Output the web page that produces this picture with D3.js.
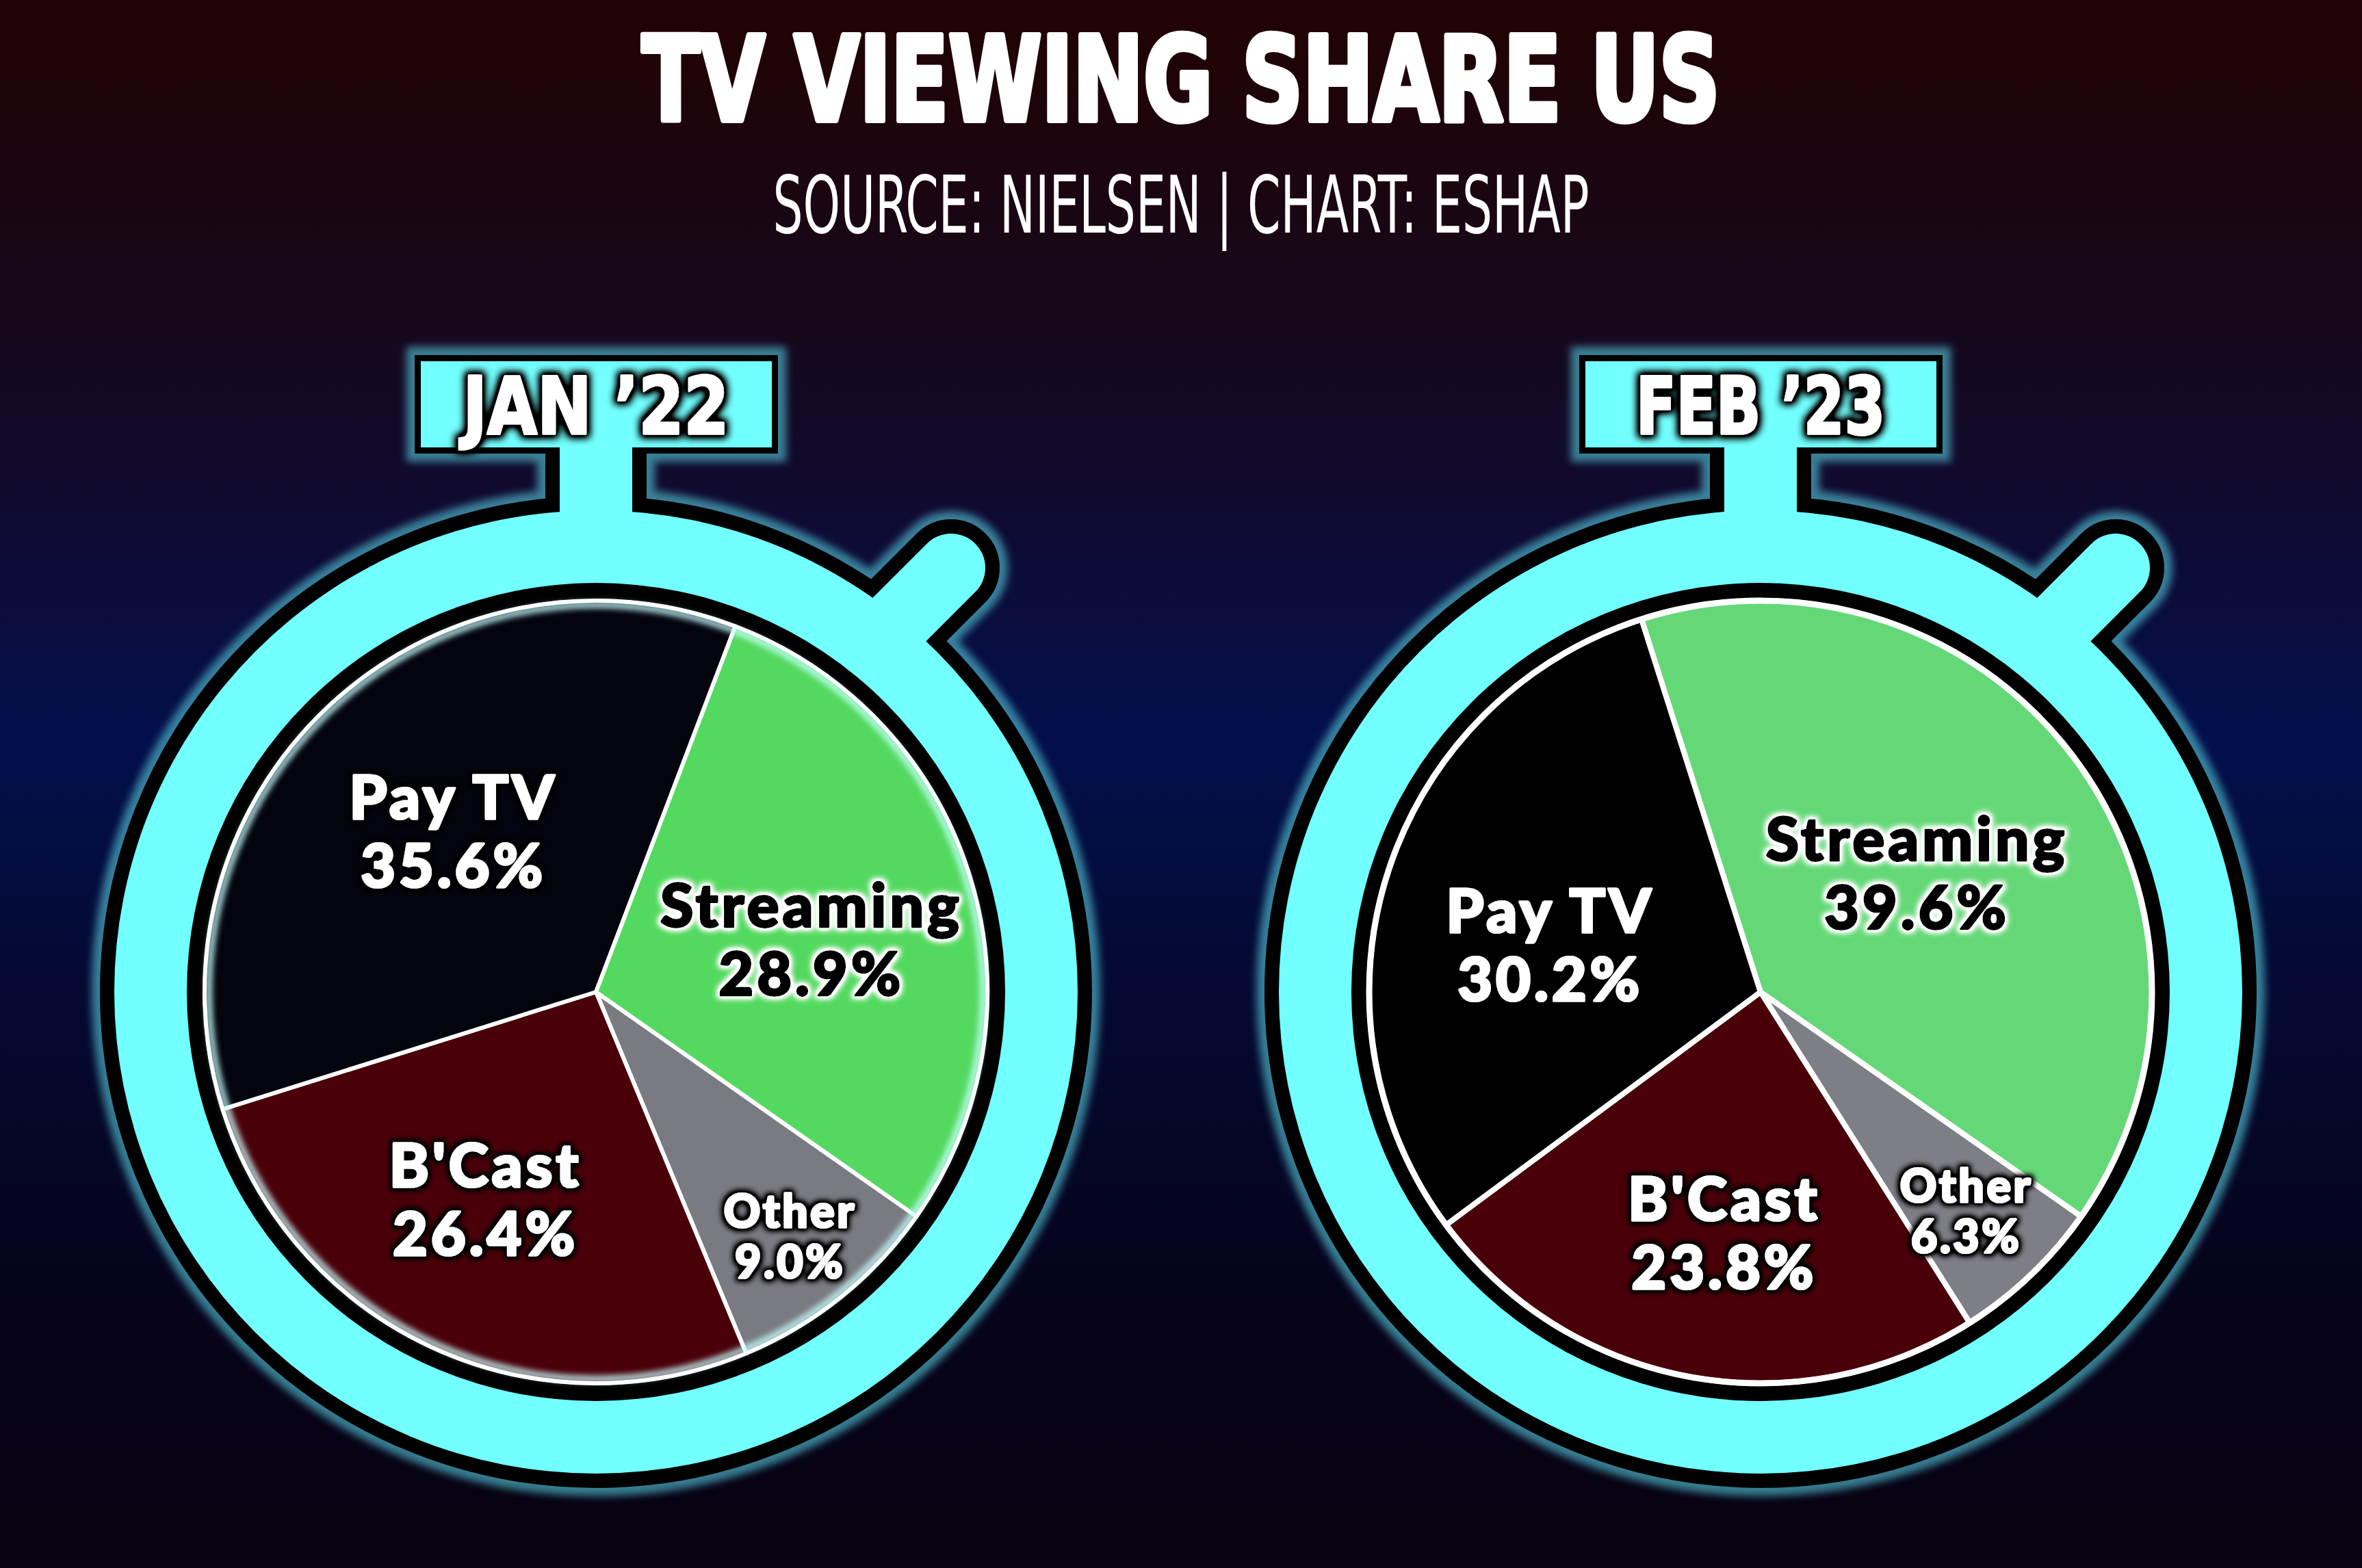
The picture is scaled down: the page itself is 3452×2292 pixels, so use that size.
<!DOCTYPE html>
<html><head><meta charset="utf-8">
<script src="https://cdn.jsdelivr.net/npm/d3@7"></script>
<style>html,body{margin:0;padding:0;background:#0a0520;overflow:hidden} svg{display:block}</style>
</head><body><svg id="c" width="3452" height="2292"></svg>
<script>
// ---------------- DATA ----------------
const categories = ["Other", "B'Cast", "Pay TV", "Streaming"];
const periods = ["JAN ’22", "FEB ’23"];
const jan22Values = [9.0, 26.4, 35.6, 28.9];
const feb23Values = [6.3, 23.8, 30.2, 39.6];
const titleText = "TV VIEWING SHARE US";
const subtitleText = "SOURCE: NIELSEN | CHART: ESHAP";

// ---------------- STYLE ----------------
const W = 3452, H = 2292;
const jan22Colors = ["#7a7a82", "#4a0009", "#03040e", "#53d95f"];
const feb23Colors = ["#7e7e87", "#4a0009", "#000000", "#64d877"];
const labelFill = ["#fff", "#fff", "#fff", "#000"];
const labelHalo = ["haloBlack", "haloBlack", "haloBlack", "haloWhite"];
const labelSize = [66, 88, 88, 88];
const labelGap = [74, 100, 100, 100];
const jan22LabelR = [456, 344, 314, 324];
const jan22Nudge = [0.3, 3, 1.7, 3.4];
const feb23LabelR = [439, 356, 315, 287];
const feb23Nudge = [0.4, -2, -5.2, -0.9];
const periodLabelWidth = [389, 364];
const CYAN = "#72ffff";

const charts = [
  {period: periods[0], values: jan22Values, colors: jan22Colors, labelR: jan22LabelR, nudge: jan22Nudge, tl: periodLabelWidth[0], sep: 6, rim: 5, innerGlow: true},
  {period: periods[1], values: feb23Values, colors: feb23Colors, labelR: feb23LabelR, nudge: feb23Nudge, tl: periodLabelWidth[1], sep: 8, rim: 9, innerGlow: false}
];

const svg = d3.select("#c");
const defs = svg.append("defs");

// background gradient
const bg = defs.append("linearGradient").attr("id", "bg").attr("x1", 0).attr("y1", 0).attr("x2", 0).attr("y2", 1);
[[0, "#220203"], [0.18, "#170818"], [0.32, "#100a30"], [0.47, "#03104c"], [0.62, "#040a34"], [0.8, "#06041e"], [1, "#080110"]]
  .forEach(([o, c]) => bg.append("stop").attr("offset", o).attr("stop-color", c));
svg.append("rect").attr("width", W).attr("height", H).attr("fill", "url(#bg)");

// filters
defs.append("filter").attr("id", "glow").attr("x", "-20%").attr("y", "-20%").attr("width", "140%").attr("height", "140%")
  .append("feGaussianBlur").attr("stdDeviation", 6);
defs.append("filter").attr("id", "soft").attr("x", "-20%").attr("y", "-20%").attr("width", "140%").attr("height", "140%")
  .append("feGaussianBlur").attr("stdDeviation", 4);

function halo(id, color, dil, blur, slope) {
  const f = defs.append("filter").attr("id", id).attr("x", "-30%").attr("y", "-30%").attr("width", "160%").attr("height", "160%");
  f.append("feMorphology").attr("in", "SourceAlpha").attr("operator", "dilate").attr("radius", dil).attr("result", "d");
  f.append("feGaussianBlur").attr("in", "d").attr("stdDeviation", blur).attr("result", "b");
  f.append("feFlood").attr("flood-color", color).attr("result", "c");
  f.append("feComposite").attr("in", "c").attr("in2", "b").attr("operator", "in").attr("result", "h");
  const ct = f.append("feComponentTransfer").attr("in", "h").attr("result", "h2");
  ct.append("feFuncA").attr("type", "linear").attr("slope", slope);
  const m = f.append("feMerge");
  m.append("feMergeNode").attr("in", "h2");
  m.append("feMergeNode").attr("in", "SourceGraphic");
}
halo("haloBlack", "#000", 3, 4, 1.6);
halo("haloWhite", "#fff", 3, 4, 1.6);
halo("boxShadow", "#000", 4, 6, 1.6);

const condensed = "'Liberation Sans Narrow','DejaVu Sans Condensed','Roboto Condensed',sans-serif";

// titles
svg.append("text").attr("x", W / 2).attr("y", 176).attr("text-anchor", "middle")
  .attr("font-family", condensed)
  .attr("font-weight", 700).attr("font-size", 171).attr("fill", "#fff")
  .attr("stroke", "#fff").attr("stroke-width", 8).attr("stroke-linejoin", "round")
  .attr("textLength", 1575).attr("lengthAdjust", "spacingAndGlyphs").text(titleText);
svg.append("text").attr("x", W / 2).attr("y", 340).attr("text-anchor", "middle")
  .attr("font-family", condensed)
  .attr("font-weight", 400).attr("font-size", 116).attr("fill", "#fff")
  .attr("textLength", 1193).attr("lengthAdjust", "spacingAndGlyphs").text(subtitleText);

// layout scale for the two stopwatches
const xPos = d3.scalePoint().domain(periods).range([871, 2573]);
const cy = 1450;
const ringR = 704, innerR = 598, pieR = 572;
const outlineW = 21, boxStroke = 18;

function shapes(g, cx, kind) {
  const sw = kind === "glow" ? outlineW * 2 + 24 : (kind === "outline" ? outlineW * 2 : 0);
  const bsw = kind === "glow" ? boxStroke + 24 : (kind === "outline" ? boxStroke : 0);
  const col = kind === "glow" ? "#4cb2c6" : (kind === "outline" ? "#000" : CYAN);
  g.append("circle").attr("cx", cx).attr("cy", cy).attr("r", ringR)
    .attr("fill", col).attr("stroke", col).attr("stroke-width", sw);
  g.append("rect").attr("x", cx - 53).attr("y", 600).attr("width", 106).attr("height", cy - 640 - 600)
    .attr("fill", col).attr("stroke", col).attr("stroke-width", sw);
  g.append("g").attr("transform", `translate(${cx + 519},${cy - 620}) rotate(45)`)
    .append("rect").attr("x", -50).attr("y", -50).attr("width", 100).attr("height", 330).attr("rx", 50)
    .attr("fill", col).attr("stroke", col).attr("stroke-width", sw).attr("stroke-linejoin", "round");
  g.append("rect").attr("x", cx - 256).attr("y", 528).attr("width", 513).attr("height", 126)
    .attr("fill", col).attr("stroke", col).attr("stroke-width", bsw);
}

charts.forEach(ch => {
  const cx = xPos(ch.period);
  const root = svg.append("g");
  shapes(root.append("g").attr("filter", "url(#glow)").attr("opacity", 0.7), cx, "glow");
  shapes(root.append("g"), cx, "outline");
  shapes(root.append("g"), cx, "fill");

  // period label
  root.append("text").attr("x", cx).attr("y", 634).attr("text-anchor", "middle")
    .attr("font-family", condensed)
    .attr("font-weight", 700).attr("font-size", 116)
    .attr("stroke", "#fff").attr("stroke-width", 3).attr("stroke-linejoin", "round")
    .attr("textLength", ch.tl).attr("lengthAdjust", "spacingAndGlyphs")
    .attr("fill", "#fff").attr("filter", "url(#boxShadow)").text(ch.period);

  // dial
  root.append("circle").attr("cx", cx).attr("cy", cy).attr("r", innerR).attr("fill", "#000");

  const pie = d3.pie().sort(null).value(d => d.v)
    .startAngle(125 * Math.PI / 180).endAngle(125 * Math.PI / 180 + 2 * Math.PI);
  const data = categories.map((c, i) => ({c, v: ch.values[i], i}));
  const arcs = pie(data);
  const arc = d3.arc().innerRadius(0).outerRadius(pieR);
  const pg = root.append("g").attr("transform", `translate(${cx},${cy})`);
  pg.selectAll("path.slice").data(arcs).join("path").attr("class", "slice")
    .attr("d", arc).attr("fill", d => ch.colors[d.data.i])
    .attr("stroke", "#fff").attr("stroke-width", ch.sep).attr("stroke-linejoin", "round");
  if (ch.innerGlow) {
    pg.append("circle").attr("r", pieR - 6).attr("fill", "none").attr("stroke", "#c8ffff")
      .attr("stroke-width", 10).attr("filter", "url(#soft)").attr("opacity", 0.85);
  }
  pg.append("circle").attr("r", pieR).attr("fill", "none").attr("stroke", "#fff").attr("stroke-width", ch.rim);

  // labels
  arcs.forEach(d => {
    const i = d.data.i;
    const r = ch.labelR[i];
    const mid = (d.startAngle + d.endAngle) / 2 + ch.nudge[i] * Math.PI / 180;
    const lx = r * Math.sin(mid), ly = -r * Math.cos(mid);
    const fs = labelSize[i], gap = labelGap[i], cap = fs * 0.72;
    const b1 = ly + cap / 2 - gap / 2;
    const t = pg.append("text").attr("text-anchor", "middle")
      .attr("font-family", "Lato, 'Noto Sans', sans-serif").attr("font-weight", 900)
      .attr("font-size", fs).attr("letter-spacing", fs * 0.055)
      .attr("fill", labelFill[i]).attr("stroke", labelFill[i]).attr("stroke-width", 3).attr("stroke-linejoin", "round")
      .attr("filter", `url(#${labelHalo[i]})`);
    t.append("tspan").attr("x", lx).attr("y", b1).text(d.data.c);
    t.append("tspan").attr("x", lx).attr("y", b1 + gap).text(d3.format(".1f")(d.data.v) + "%");
  });
});
</script></body></html>
